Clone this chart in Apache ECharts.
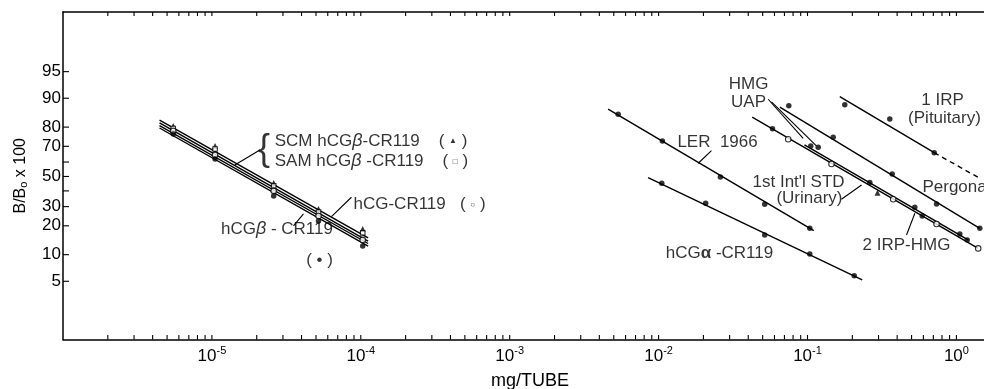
<!DOCTYPE html>
<html><head><meta charset="utf-8">
<script src="https://cdn.jsdelivr.net/npm/echarts@6/dist/echarts.min.js"></script>
<style>html,body{margin:0;padding:0;background:#fff}#c{width:984px;height:389px}</style>
</head><body><div id="c"></div>
<script>
// ---------------- data: dose in mg/TUBE, response as B/B0 x 100 ----------------
const xDecadeTicks = [1e-5, 1e-4, 1e-3, 1e-2, 1e-1, 1];
const yTickLabels = [95, 90, 80, 70, 50, 30, 20, 10, 5];
const yTickMarks = [95, 90, 80, 70, 60, 50, 40, 30, 20, 10, 5];

const hcgbDoses = [5.5e-6, 1.05e-5, 2.6e-5, 5.2e-5, 1.03e-4];
const scmPct  = [80.5, 70.2, 45.4, 28.6, 18.6];
const samPct  = [79.4, 68.4, 43.4, 26.9, 17.0];
const hcgPct  = [78.2, 64.7, 40.0, 24.8, 14.4];
const hcgbPct = [76.7, 62.0, 36.6, 22.3, 12.4];
const hcgbLineDoses = [4.45e-6, 1.12e-4];
const scmLinePct  = [83.0, 15.1];
const samLinePct  = [81.8, 14.0];
const hcgLinePct  = [80.7, 13.2];
const hcgbLinePct = [79.6, 12.4];

const lerDoses = [5.35e-3, 1.06e-2, 2.6e-2, 5.16e-2, 0.1036];
const lerPct   = [85.2, 73.0, 49.6, 31.4, 18.9];
const lerLineDoses = [4.58e-3, 0.1102];
const lerLinePct   = [86.9, 17.9];

const alphaDoses = [1.05e-2, 2.07e-2, 5.16e-2, 0.1036, 0.206];
const alphaPct   = [45.2, 32.0, 16.2, 10.2, 5.8];
const alphaLineDoses = [8.5e-3, 0.233];
const alphaLinePct   = [49.2, 5.2];

const stdDoses = [0.0742, 0.1449, 0.3762, 0.7356, 1.401];
const stdPct   = [74.0, 58.7, 34.5, 20.8, 11.7];
const stdLineDoses = [0.0425, 1.401];
const stdLinePct   = [84.1, 11.7];

const irpHmgDoses = [0.2621, 0.5255, 0.5892, 1.054, 1.182];
const irpHmgPct   = [45.7, 29.6, 24.8, 16.6, 14.4];
const irpHmgLineDoses = [0.0954, 1.206];
const irpHmgLinePct   = [70.8, 14.3];

const uapDoses = [0.0582, 0.1052, 0.1180];
const uapPct   = [79.2, 70.2, 69.4];
const triDoses = [0.2953];
const triPct   = [38.8];

const pergonalDoses = [0.0749, 0.1488, 0.3705, 0.7356, 1.436];
const pergonalPct   = [87.9, 75.0, 51.8, 31.6, 18.9];
const pergonalLineDoses = [0.0652, 1.436];
const pergonalLinePct   = [87.5, 18.9];

const irp1Doses = [0.178, 0.357, 0.7094];
const irp1Pct   = [88.2, 83.4, 66.1];
const irp1LineDoses = [0.1647, 0.7094];
const irp1LinePct   = [90.4, 66.1];
const irp1DashDoses = [0.7094, 1.436];
const irp1DashPct   = [66.1, 48.7];

// ---------------- helpers ----------------
const logit = p => Math.log((p / 100) / (1 - p / 100));
const pts = (xs, ps) => xs.map((x, i) => [x, logit(ps[i])]);
const X_MIN = 1e-6, X_MAX = Math.pow(10, 0.2055), Y_MIN = -4.58, Y_MAX = 4.62;
const minorTicks = [];
for (let e = -6; e <= 0; e++) for (let m = 1; m <= 9; m++) {
  const v = m * Math.pow(10, e);
  if (v > X_MIN * 1.01 && v < X_MAX) minorTicks.push(v);
}

const FONT = '"Liberation Sans", Arial, Helvetica, sans-serif';
const INK = '#000';
const FS = 17;

function lineS(xs, ps, dashed) {
  return { type: 'line', data: pts(xs, ps), symbol: 'none', silent: true, z: 2,
    lineStyle: { color: INK, width: 1.4, type: dashed ? [5, 4] : 'solid' } };
}
function markS(xs, ps, kind) {
  const s = { type: 'scatter', data: pts(xs, ps), silent: true, z: 3 };
  if (kind === 'dot') { s.symbol = 'circle'; s.symbolSize = 5.5; s.itemStyle = { color: INK }; }
  if (kind === 'open') { s.symbol = 'circle'; s.symbolSize = 5.5; s.itemStyle = { color: '#fff', borderColor: INK, borderWidth: 1.1 }; }
  if (kind === 'tri') { s.symbol = 'triangle'; s.symbolSize = 6; s.itemStyle = { color: INK }; }
  if (kind === 'sq') { s.symbol = 'rect'; s.symbolSize = 4.5; s.itemStyle = { color: '#fff', borderColor: INK, borderWidth: 1.1 }; }
  return s;
}

// annotation texts, positioned in axis units: [log10(mg/TUBE), logit(B/B0)]
const notes = [
  { t: 'HMG', p: [-1.396, 2.598] },
  { t: 'UAP', p: [-1.396, 2.079] },
  { t: '1 IRP', p: [-0.093, 2.149] },
  { t: '(Pituitary)', p: [-0.080, 1.629] },
  { t: 'LER  1966', p: [-1.604, 0.955] },
  { t: "1st Int'l STD", p: [-1.060, -0.160] },
  { t: '(Urinary)', p: [-0.987, -0.620] },
  { t: 'Pergonal', p: [-0.228, -0.295], a: 'left' },
  { t: '2 IRP-HMG', p: [-0.335, -1.924] },
  { t: 'hCG{a|α} -CR119', p: [-1.591, -2.163] },
  { t: 'SCM hCG{b|β}-CR119    ( {m|▲} )', p: [-4.578, 0.997], a: 'left' },
  { t: 'SAM hCG{b|β} -CR119    ( {m|□} )', p: [-4.578, 0.421], a: 'left' },
  { t: 'hCG-CR119   ( {m|○} )', p: [-4.049, -0.787], a: 'left' },
  { t: 'hCG{b|β} - CR119', p: [-4.563, -1.489] },
  { t: '( • )', p: [-4.277, -2.346] },
  { t: '{br|{}', p: [-4.650, 0.744] }
];
const pointers = [
  [[-1.264, 2.169], [-1.029, 1.073]],
  [[-1.242, 2.093], [-0.940, 0.857]],
  [[-1.645, 0.725], [-1.734, 0.371]],
  [[-0.772, -0.640], [-0.637, -0.239]],
  [[-0.335, -1.643], [-0.279, -1.034]],
  [[-4.678, 0.744], [-4.846, 0.323]],
  [[-4.063, -0.584], [-4.197, -1.129]],
  [[-4.385, -1.053], [-4.452, -1.390]]
];
const toXY = q => [Math.pow(10, q[0]), q[1]];

const rich = {
  a: { fontFamily: FONT, fontSize: FS, fontWeight: 'bold', color: INK },
  b: { fontFamily: FONT, fontSize: FS + 1, fontStyle: 'italic', color: INK },
  m: { fontFamily: FONT, fontSize: 8, color: INK },
  br: { fontFamily: FONT, fontSize: 36, color: INK }
};

const tickStyle = { stroke: INK, lineWidth: 1.1 };
const series = [
  lineS(hcgbLineDoses, scmLinePct), lineS(hcgbLineDoses, samLinePct),
  lineS(hcgbLineDoses, hcgLinePct), lineS(hcgbLineDoses, hcgbLinePct),
  markS(hcgbDoses, scmPct, 'tri'), markS(hcgbDoses, samPct, 'sq'),
  markS(hcgbDoses, hcgPct, 'open'), markS(hcgbDoses, hcgbPct, 'dot'),
  lineS(lerLineDoses, lerLinePct), markS(lerDoses, lerPct, 'dot'),
  lineS(alphaLineDoses, alphaLinePct), markS(alphaDoses, alphaPct, 'dot'),
  lineS(stdLineDoses, stdLinePct), markS(stdDoses, stdPct, 'open'),
  lineS(irpHmgLineDoses, irpHmgLinePct), markS(irpHmgDoses, irpHmgPct, 'dot'),
  markS(uapDoses, uapPct, 'dot'), markS(triDoses, triPct, 'tri'),
  lineS(pergonalLineDoses, pergonalLinePct), markS(pergonalDoses, pergonalPct, 'dot'),
  lineS(irp1LineDoses, irp1LinePct), lineS(irp1DashDoses, irp1DashPct, true), markS(irp1Doses, irp1Pct, 'dot'),
  { type: 'lines', coordinateSystem: 'cartesian2d', silent: true, z: 2,
    lineStyle: { color: INK, width: 1.1, opacity: 1 },
    data: pointers.map(s => ({ coords: [toXY(s[0]), toXY(s[1])] })) },
  { type: 'scatter', symbolSize: 0, silent: true, z: 4,
    data: notes.map(n => ({ value: toXY(n.p),
      label: { show: true, position: 'inside', formatter: n.t, align: n.a || 'center',
        verticalAlign: 'middle', fontFamily: FONT, fontSize: FS, color: INK, rich } })) },
  // x-axis ticks (bottom and top, pointing inward), placed through the log axis
  { type: 'custom', silent: true, z: 5, clip: false,
    data: minorTicks.map(v => [v, 0]),
    renderItem: (params, api) => {
      const b = api.coord([api.value(0), Y_MIN]);
      const t = api.coord([api.value(0), Y_MAX]);
      return { type: 'group', children: [
        { type: 'line', shape: { x1: b[0], y1: b[1], x2: b[0], y2: b[1] - 4.5 }, style: tickStyle },
        { type: 'line', shape: { x1: t[0], y1: t[1], x2: t[0], y2: t[1] + 4 }, style: tickStyle }
      ] };
    } },
  // y-axis ticks (pointing inward)
  { type: 'custom', silent: true, z: 5, clip: false,
    data: yTickMarks.map(p => [X_MIN, logit(p)]),
    renderItem: (params, api) => {
      const c = api.coord([X_MIN, api.value(1)]);
      return { type: 'line', shape: { x1: c[0], y1: c[1], x2: c[0] + 6, y2: c[1] }, style: tickStyle };
    } }
];

const xBase = {
  type: 'log', logBase: 10, min: X_MIN, max: X_MAX,
  splitLine: { show: false }, minorTick: { show: false },
  axisLine: { show: true, onZero: false, lineStyle: { color: INK, width: 1.5 } },
  axisTick: { show: false }
};

const option = {
  animation: false,
  backgroundColor: '#fff',
  grid: { left: 63, top: 12, right: -3, bottom: 49.5, containLabel: false, outerBoundsMode: 'none' },
  xAxis: [
    Object.assign({}, xBase, {
      position: 'bottom',
      name: 'mg/TUBE', nameLocation: 'middle', nameGap: 33,
      nameTextStyle: { fontFamily: FONT, fontSize: 18, color: INK, padding: [0, 0, 0, 10] },
      axisLabel: { show: true, customValues: xDecadeTicks, margin: 6,
        formatter: v => '{b|10}{s|' + Math.round(Math.log10(v)) + '}',
        rich: { b: { fontFamily: FONT, fontSize: FS, color: INK, verticalAlign: 'bottom' },
                s: { fontFamily: FONT, fontSize: 11, color: INK, verticalAlign: 'bottom', padding: [0, 0, 8, 0] } } }
    }),
    Object.assign({}, xBase, { position: 'top', axisLabel: { show: false } })
  ],
  yAxis: {
    type: 'value', min: Y_MIN, max: Y_MAX,
    splitLine: { show: false },
    axisLine: { show: true, onZero: false, lineStyle: { color: INK, width: 1.5 } },
    axisTick: { show: false },
    axisLabel: { show: true, customValues: yTickLabels.map(logit), margin: 2,
      formatter: v => String(Math.round(100 / (1 + Math.exp(-v)))),
      fontFamily: FONT, fontSize: FS, color: INK },
    name: 'B/B{s|o} x 100', nameLocation: 'middle', nameGap: 34, nameRotate: 90,
    nameTextStyle: { fontFamily: FONT, fontSize: 16, color: INK,
      rich: { s: { fontFamily: FONT, fontSize: 11, color: INK, verticalAlign: 'bottom' } } }
  },
  series
};

const chart = echarts.init(document.getElementById('c'), null, { renderer: 'canvas' });
chart.setOption(option);
</script>
</body></html>
